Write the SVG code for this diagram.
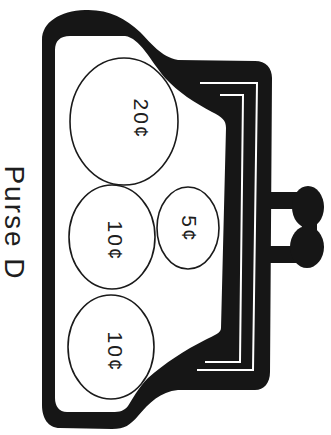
<svg xmlns="http://www.w3.org/2000/svg" width="331" height="435" viewBox="0 0 331 435">
<style>
.ink{fill:#161616;}
.hole{fill:#ffffff;}
.frame{fill:none;stroke:#ffffff;stroke-width:2;stroke-linejoin:miter;}
.coin{fill:none;stroke:#1a1a1a;stroke-width:1.6;}
.val{font-family:"Liberation Sans",Arial,sans-serif;font-size:21px;fill:#1e1e1e;text-anchor:middle;letter-spacing:2px;}
.lbl{font-family:"Liberation Sans",Arial,sans-serif;font-size:28px;fill:#1e1e1e;text-anchor:middle;letter-spacing:2px;}
</style>
<rect width="331" height="435" fill="#ffffff"/>
<g id="purse">
<path class="ink" d="M42,405 L42,40 C42,22 60,11 85,10 C108,9 125,18 140,32 C152,44 160,56 178,60 L255,61 C266,61 272,68 272,78 L270,372 C270,383 264,390 255,390 L178,390 C160,392 150,402 138,416 C130,425 125,429 112,429 L60,428 C48,428 42,418 42,405 Z"/>
<path class="hole" d="M55,398 L55,50 C55,41 60,36 70,36 L125,36 C140,38 150,60 165,78 C178,92 195,103 212,112 C222,117 226,120 226,128 L221,328 C221,333 215,335 205,340 C185,350 165,363 148,378 C138,388 132,400 128,406 C124,411 120,412 112,412 L67,412 C59,412 55,406 55,398 Z"/>
<path class="frame" d="M200,83 L257,83 L253,370 L197,370"/>
<path class="frame" d="M220,95 L243,95 L240,362 L205,362"/>
</g>
<g id="clasp" class="ink">
<rect x="268" y="192" width="32" height="17"/>
<rect x="268" y="246" width="30" height="17"/>
<ellipse cx="308" cy="207" rx="16" ry="21"/>
<ellipse cx="307" cy="247" rx="17" ry="21"/>
<rect x="302" y="220" width="15" height="14"/>
</g>
<g id="coin-20">
<ellipse class="coin" cx="124" cy="121.5" rx="54" ry="63.5"/>
<text class="val" transform="translate(134,119) rotate(90)">20¢</text>
</g>
<g id="coin-10a">
<ellipse class="coin" cx="112" cy="237" rx="43" ry="52"/>
<text class="val" transform="translate(108,241) rotate(90)">10¢</text>
</g>
<g id="coin-5">
<ellipse class="coin" cx="188" cy="228" rx="31" ry="41"/>
<text class="val" transform="translate(182,229) rotate(90)">5¢</text>
</g>
<g id="coin-10b">
<ellipse class="coin" cx="111" cy="347" rx="43" ry="52"/>
<text class="val" transform="translate(108,352) rotate(90)">10¢</text>
</g>
<g id="label">
<text class="lbl" transform="translate(5,223) rotate(90)">Purse D</text>
</g>
</svg>
